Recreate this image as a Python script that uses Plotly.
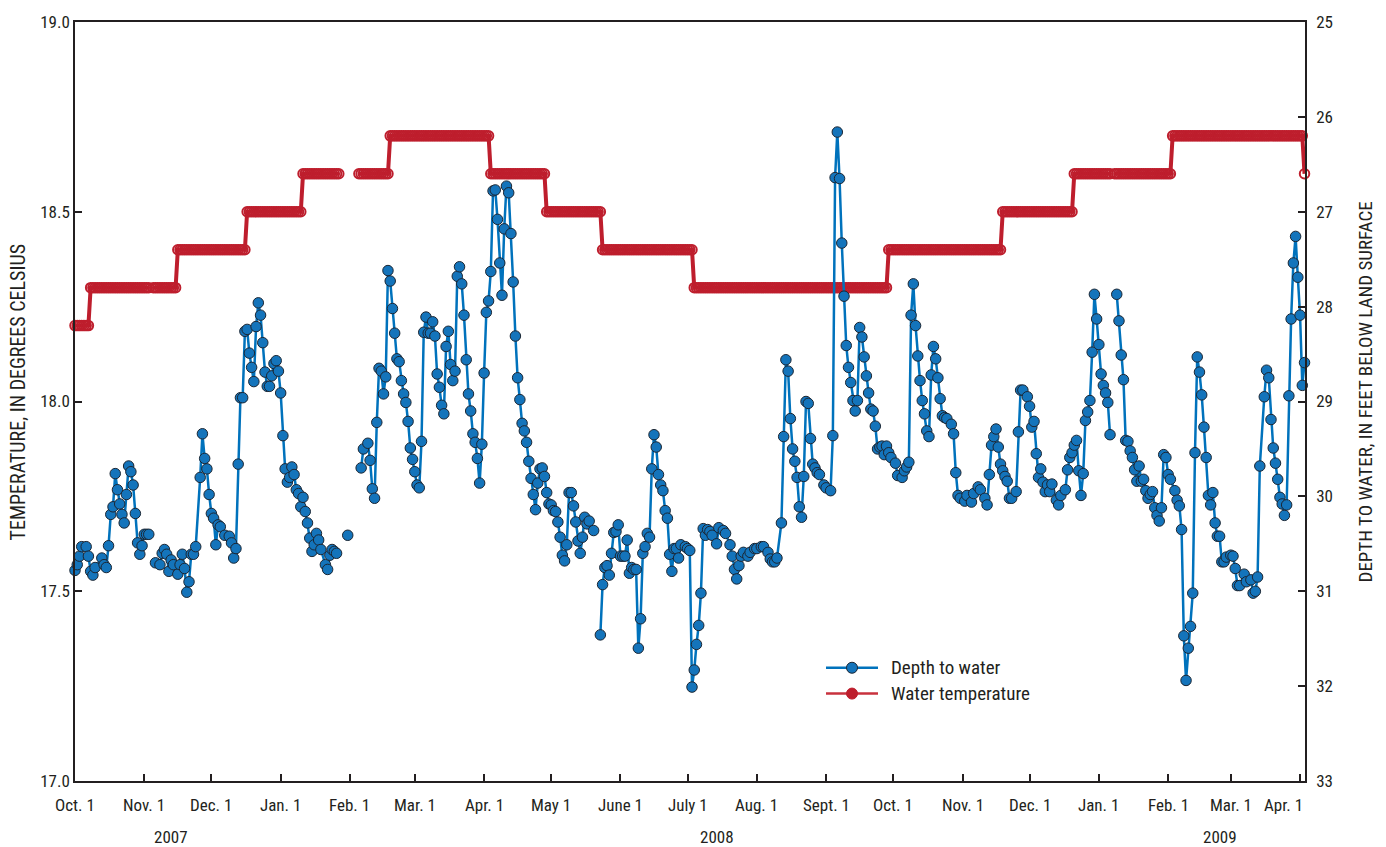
import plotly.graph_objects as go
from datetime import date, timedelta

# ---------------- data ----------------
# Depth to water, feet below land surface: (day of month, value); None = data gap
depth_2007_10 = [(1,30.78),(2,30.72),(3,30.63),(4,30.53),(6,30.53),(7,30.63),(8,30.79),(9,30.83),(10,30.75),(13,30.65),(14,30.72),(15,30.75),(16,30.52),(17,30.19),(18,30.11),(19,29.76),(20,29.93),(21,30.08),(22,30.19),(23,30.28),(24,29.98),(25,29.68),(26,29.74),(27,29.88),(28,30.18),(29,30.49),(30,30.61),(31,30.52)]
depth_2007_11 = [(1,30.40),(2,30.40),(3,30.40),(4,None),(6,30.70),(8,30.72),(9,30.60),(10,30.56),(11,30.61),(12,30.79),(13,30.67),(14,30.72),(16,30.82),(17,30.72),(18,30.61),(19,30.76),(20,31.01),(21,30.90),(22,30.61),(23,30.61),(24,30.53),(26,29.80),(27,29.34),(28,29.60),(29,29.71),(30,29.98)]
depth_2007_12 = [(1,30.18),(2,30.23),(3,30.51),(4,30.30),(5,30.32),(7,30.41),(9,30.42),(10,30.49),(11,30.65),(12,30.55),(13,29.66),(14,28.96),(15,28.96),(16,28.26),(17,28.24),(18,28.49),(19,28.64),(20,28.79),(21,28.21),(22,27.96),(23,28.09),(24,28.38),(25,28.69),(26,28.84),(27,28.84),(28,28.73),(29,28.60),(30,28.57),(31,28.68)]
depth_2008_01 = [(1,28.91),(2,29.36),(3,29.71),(4,29.85),(5,29.80),(6,29.69),(7,29.77),(8,29.93),(9,29.97),(10,30.11),(11,30.01),(12,30.16),(13,30.28),(14,30.44),(15,30.58),(16,30.51),(17,30.39),(18,30.46),(19,30.56),(21,30.72),(22,30.77),(23,30.62),(24,30.56),(25,30.58),(26,30.60),(27,None),(31,30.41)]
depth_2008_02 = [(1,None),(6,29.70),(7,29.50),(9,29.44),(10,29.62),(11,29.92),(12,30.02),(13,29.22),(14,28.65),(15,28.68),(16,28.92),(17,28.74),(18,27.62),(19,27.73),(20,28.02),(21,28.28),(22,28.55),(23,28.58),(24,28.78),(25,28.92),(26,29.01),(27,29.21),(28,29.49),(29,29.61)]
depth_2008_03 = [(1,29.74),(2,29.88),(3,29.91),(4,29.42),(5,28.27),(6,28.11),(7,28.28),(8,28.28),(9,28.16),(10,28.31),(11,28.71),(12,28.85),(13,29.04),(14,29.13),(15,28.42),(16,28.26),(17,28.61),(18,28.78),(19,28.68),(20,27.68),(21,27.58),(22,27.76),(23,28.09),(24,28.56),(25,28.92),(26,29.10),(27,29.34),(28,29.43),(29,29.60),(30,29.86),(31,29.45)]
depth_2008_04 = [(1,28.70),(2,28.06),(3,27.94),(4,27.63),(5,26.78),(6,26.77),(7,27.08),(8,27.54),(9,27.88),(10,27.18),(11,26.73),(12,26.80),(13,27.23),(14,27.74),(15,28.31),(16,28.75),(17,28.98),(18,29.23),(19,29.31),(20,29.43),(21,29.63),(22,29.81),(23,29.98),(24,30.14),(25,29.86),(26,29.71),(27,29.70),(28,29.79),(29,29.96),(30,30.08)]
depth_2008_05 = [(1,30.09),(2,30.15),(3,30.16),(4,30.27),(5,30.43),(6,30.62),(7,30.68),(8,30.51),(9,29.96),(10,29.96),(11,30.10),(12,30.27),(13,30.47),(14,30.60),(15,30.43),(16,30.22),(17,30.29),(18,30.26),(20,30.36),(21,None),(23,31.46),(24,30.93),(25,30.75),(26,30.73),(27,30.83),(28,30.60),(29,30.38),(30,30.37),(31,30.30)]
depth_2008_06 = [(1,30.63),(2,30.63),(3,30.63),(4,30.46),(5,30.81),(6,30.75),(7,30.77),(8,30.77),(9,31.60),(10,31.29),(11,30.60),(12,30.53),(13,30.39),(14,30.43),(15,29.71),(16,29.35),(17,29.48),(18,29.77),(19,29.88),(20,29.94),(21,30.15),(22,30.23),(23,30.61),(24,30.79),(25,30.55),(26,30.55),(27,30.65),(28,30.51),(30,30.53)]
depth_2008_07 = [(1,30.55),(2,30.57),(3,32.01),(4,31.83),(5,31.56),(6,31.36),(7,31.02),(8,30.34),(9,30.41),(10,30.35),(11,30.37),(12,30.41),(14,30.50),(15,30.33),(17,30.36),(18,30.39),(20,30.51),(21,30.63),(22,30.77),(23,30.87),(24,30.73),(25,30.63),(26,30.59),(28,30.63),(29,30.59),(31,30.55)]
depth_2008_08 = [(1,30.55),(3,30.53),(4,30.53),(6,30.59),(7,30.66),(8,30.69),(9,30.69),(10,30.65),(12,30.28),(13,29.37),(14,28.56),(15,28.68),(16,29.18),(17,29.50),(18,29.63),(19,29.80),(20,30.11),(21,30.22),(22,29.79),(23,29.00),(24,29.02),(25,29.39),(26,29.66),(27,29.70),(28,29.75),(29,29.77),(31,29.88)]
depth_2008_09 = [(1,29.91),(3,29.94),(4,29.36),(5,26.64),(6,26.16),(7,26.65),(8,27.33),(9,27.89),(10,28.41),(11,28.64),(12,28.80),(13,28.99),(14,29.10),(15,28.99),(16,28.22),(17,28.32),(18,28.53),(19,28.73),(20,28.91),(21,29.08),(22,29.10),(23,29.26),(24,29.50),(25,29.48),(26,29.47),(27,29.56),(28,29.47),(29,29.54),(30,29.59)]
depth_2008_10 = [(2,29.65),(3,29.78),(5,29.80),(6,29.73),(7,29.69),(8,29.64),(9,28.09),(10,27.76),(11,28.20),(12,28.52),(13,28.78),(14,28.99),(15,29.13),(16,29.31),(17,29.37),(18,28.72),(19,28.42),(20,28.55),(21,28.75),(22,28.97),(23,29.15),(24,29.17),(25,29.18),(27,29.24),(28,29.34),(29,29.75),(30,29.99),(31,30.02)]
depth_2008_11 = [(2,30.05),(3,29.99),(5,30.06),(6,29.97),(8,29.90),(9,29.93),(11,30.02),(12,30.09),(13,29.77),(14,29.46),(15,29.37),(16,29.29),(17,29.48),(18,29.66),(19,29.73),(20,29.79),(21,29.84),(22,30.02),(23,30.02),(25,29.95),(26,29.32),(27,28.88),(28,28.88),(30,28.95)]
depth_2008_12 = [(1,29.05),(2,29.27),(3,29.21),(4,29.55),(5,29.80),(6,29.71),(7,29.85),(8,29.95),(9,29.88),(10,29.95),(11,29.87),(13,30.04),(14,30.09),(15,29.99),(17,29.93),(18,29.72),(19,29.59),(20,29.54),(21,29.46),(22,29.41),(23,29.73),(24,29.99),(25,29.76),(26,29.20),(27,29.11),(28,28.99),(29,28.48),(30,27.87),(31,28.13)]
depth_2009_01 = [(1,28.40),(2,28.71),(3,28.83),(4,28.91),(5,29.01),(6,29.35),(7,None),(9,27.87),(10,28.15),(11,28.51),(12,28.77),(13,29.41),(14,29.42),(15,29.52),(16,29.59),(17,29.72),(18,29.84),(19,29.68),(20,29.84),(21,29.82),(22,29.94),(23,30.02),(24,29.98),(25,29.95),(26,30.12),(27,30.20),(28,30.26),(29,30.12),(30,29.56),(31,29.59)]
depth_2009_02 = [(1,29.77),(2,29.82),(4,29.94),(5,30.04),(6,30.10),(7,30.35),(8,31.47),(9,31.94),(10,31.60),(11,31.37),(12,31.02),(13,29.54),(14,28.53),(15,28.69),(16,28.93),(17,29.27),(18,29.59),(19,29.99),(20,30.09),(21,29.96),(22,30.28),(23,30.42),(24,30.42),(25,30.69),(26,30.69),(27,30.64)]
depth_2009_03 = [(1,30.62),(2,30.63),(3,30.76),(4,30.94),(5,30.94),(7,30.82),(8,30.90),(10,30.88),(11,31.02),(12,31.00),(13,30.85),(14,29.68),(16,28.95),(17,28.67),(18,28.75),(19,29.19),(20,29.49),(21,29.65),(22,29.82),(23,30.01),(24,30.08),(25,30.20),(26,30.09),(27,28.94),(28,28.13),(29,27.54),(30,27.26),(31,27.69)]
depth_2009_04 = [(1,28.09),(2,28.83),(3,28.59)]

# Water temperature (deg C), logged daily; runs of constant value (start, end, value)
temp_start = ["2007-10-01","2007-10-08","2007-11-05","2007-11-16","2007-12-17","2008-01-11","2008-02-05","2008-02-19","2008-04-04","2008-04-29","2008-05-24","2008-07-04","2008-09-29","2008-11-19","2008-12-21","2009-01-08","2009-02-03","2009-04-03"]
temp_end   = ["2007-10-07","2007-11-03","2007-11-15","2007-12-16","2008-01-10","2008-01-27","2008-02-18","2008-04-03","2008-04-28","2008-05-23","2008-07-03","2008-09-28","2008-11-18","2008-12-20","2009-01-06","2009-02-02","2009-04-02","2009-04-03"]
temp_value = [18.2,18.3,18.3,18.4,18.5,18.6,18.6,18.7,18.6,18.5,18.4,18.3,18.4,18.5,18.6,18.6,18.7,18.6]

# Axis ticks / labels
month_ticks = ["2007-10-01","2007-11-01","2007-12-01","2008-01-01","2008-02-01","2008-03-01","2008-04-01","2008-05-01","2008-06-01","2008-07-01","2008-08-01","2008-09-01","2008-10-01","2008-11-01","2008-12-01","2009-01-01","2009-02-01","2009-03-01","2009-04-01"]
month_labels = ["Oct. 1","Nov. 1","Dec. 1","Jan. 1","Feb. 1","Mar. 1","Apr. 1","May 1","June 1","July 1","Aug. 1","Sept. 1","Oct. 1","Nov. 1","Dec. 1","Jan. 1","Feb. 1","Mar. 1","Apr. 1"]
year_pos = ["2007-11-13","2008-07-14","2009-02-24"]
year_labels = ["2007","2008","2009"]
temp_ticks = [17.0, 17.5, 18.0, 18.5, 19.0]
depth_ticks = [25, 26, 27, 28, 29, 30, 31, 32, 33]
legend_names = ["Depth to water", "Water temperature"]

# ---------------- build series ----------------
depth_months = [(2007,10,depth_2007_10),(2007,11,depth_2007_11),(2007,12,depth_2007_12),
                (2008,1,depth_2008_01),(2008,2,depth_2008_02),(2008,3,depth_2008_03),
                (2008,4,depth_2008_04),(2008,5,depth_2008_05),(2008,6,depth_2008_06),
                (2008,7,depth_2008_07),(2008,8,depth_2008_08),(2008,9,depth_2008_09),
                (2008,10,depth_2008_10),(2008,11,depth_2008_11),(2008,12,depth_2008_12),
                (2009,1,depth_2009_01),(2009,2,depth_2009_02),(2009,3,depth_2009_03),
                (2009,4,depth_2009_04)]
dx, dy = [], []
for yr, mo, rows in depth_months:
    for dom, v in rows:
        dx.append(date(yr, mo, dom).isoformat())
        dy.append(v)

tx, ty = [], []
prev_end = None
for s, e, v in zip(temp_start, temp_end, temp_value):
    sd, ed = date.fromisoformat(s), date.fromisoformat(e)
    if prev_end is not None and (sd - prev_end).days > 1:
        tx.append((prev_end + timedelta(days=1)).isoformat())
        ty.append(None)
    d = sd
    while d <= ed:
        tx.append(d.isoformat())
        ty.append(v)
        d += timedelta(days=1)
    prev_end = ed

# ---------------- styling ----------------
RED = "#BE1E2D"
RED_LEG = "#C8323E"
BLUE = "#0072BC"
BLUE_FILL = "#1474BB"
OUTLINE = "#1B2633"
INK = "#231F20"
FONT = "Liberation Sans Narrow, Arial Narrow, Roboto Condensed, Liberation Sans, sans-serif"

# plot-area geometry in pixels (for the hand-drawn legend key)
PL, PR, PT, PB = 75, 1305, 17, 781
def px_x(px):
    return (px - PL) / (PR - PL)
def px_y(py):
    return (PB - py) / (PB - PT)

fig = go.Figure()
fig.add_trace(go.Scatter(
    x=tx, y=ty, yaxis="y", mode="lines+markers", connectgaps=False, cliponaxis=False,
    line=dict(color=RED, width=4),
    marker=dict(symbol="circle-open", size=9.5, color=RED, line=dict(color=RED, width=2)),
    showlegend=False, hoverinfo="skip"))
fig.add_trace(go.Scatter(
    x=dx, y=dy, yaxis="y2", mode="lines+markers", connectgaps=False, cliponaxis=False,
    line=dict(color=BLUE, width=2.5),
    marker=dict(symbol="circle", size=10.5, color=BLUE_FILL, line=dict(color=OUTLINE, width=1)),
    showlegend=False, hoverinfo="skip"))

annotations = []
for tv, tl in zip(month_ticks, month_labels):
    last = tv == month_ticks[-1]
    annotations.append(dict(
        x="2009-04-03 05:00" if last else tv, xref="x", y=0, yref="paper", yshift=-24,
        text=tl, showarrow=False, xanchor="right" if last else "center", yanchor="middle",
        font=dict(family=FONT, size=17, color=INK)))
for yp, yl in zip(year_pos, year_labels):
    annotations.append(dict(x=yp, xref="x", y=0, yref="paper", yshift=-56, text=yl,
                            showarrow=False, xanchor="center", yanchor="middle",
                            font=dict(family=FONT, size=17, color=INK)))
annotations.append(dict(x=-0.0463, xref="paper", y=0.512, yref="paper", textangle=-90,
                        text="TEMPERATURE, IN DEGREES CELSIUS", showarrow=False,
                        xanchor="center", yanchor="middle",
                        font=dict(family=FONT, size=20, color=INK)))
annotations.append(dict(x=1.0488, xref="paper", y=0.512, yref="paper", textangle=-90,
                        text="DEPTH TO WATER, IN FEET BELOW LAND SURFACE", showarrow=False,
                        xanchor="center", yanchor="middle",
                        font=dict(family=FONT, size=19, color=INK)))

# legend key (drawn as shapes + text)
shapes = []
leg_rows = [(667, BLUE, BLUE_FILL, OUTLINE), (693, RED_LEG, RED, RED)]
for (py, lc, fc, oc), name in zip(leg_rows, legend_names):
    shapes.append(dict(type="line", xref="paper", yref="paper",
                       x0=px_x(826), x1=px_x(878), y0=px_y(py), y1=px_y(py),
                       line=dict(color=lc, width=2.5)))
    shapes.append(dict(type="circle", xref="paper", yref="paper",
                       xsizemode="pixel", ysizemode="pixel",
                       xanchor=px_x(852), yanchor=px_y(py),
                       x0=-5.5, x1=5.5, y0=-5.5, y1=5.5,
                       fillcolor=fc, line=dict(color=oc, width=1)))
    annotations.append(dict(x=px_x(889), xref="paper", y=px_y(py), yref="paper",
                            text=name, showarrow=False, xanchor="left", yanchor="middle",
                            font=dict(family=FONT, size=19, color=INK)))

fig.update_layout(
    width=1386, height=847,
    margin=dict(l=75, r=81, t=17, b=66),
    paper_bgcolor="white", plot_bgcolor="white",
    font=dict(family=FONT, size=17, color=INK),
    showlegend=False,
    xaxis=dict(type="date", range=["2007-10-01", "2009-04-03 05:00"],
               showgrid=False, zeroline=False, showline=True, linecolor=INK, linewidth=1.5,
               mirror=True, ticks="inside", ticklen=7, tickwidth=1.5, tickcolor=INK,
               tickvals=month_ticks, showticklabels=False),
    yaxis=dict(range=[17, 19], tickvals=temp_ticks, ticktext=[f"{v:.1f}" for v in temp_ticks],
               showgrid=False, zeroline=False, showline=True, linecolor=INK, linewidth=1.5,
               ticks="inside", ticklen=7, tickwidth=1.5, tickcolor=INK,
               tickfont=dict(family=FONT, size=17, color=INK)),
    yaxis2=dict(range=[33, 25], overlaying="y", side="right", tickvals=depth_ticks,
                showgrid=False, zeroline=False, showline=True, linecolor=INK, linewidth=1.5,
                ticks="inside", ticklen=7, tickwidth=1.5, tickcolor=INK,
                ticklabelstandoff=6,
                tickfont=dict(family=FONT, size=17, color=INK)),
    annotations=annotations,
    shapes=shapes,
)

fig.write_html("out.html")
